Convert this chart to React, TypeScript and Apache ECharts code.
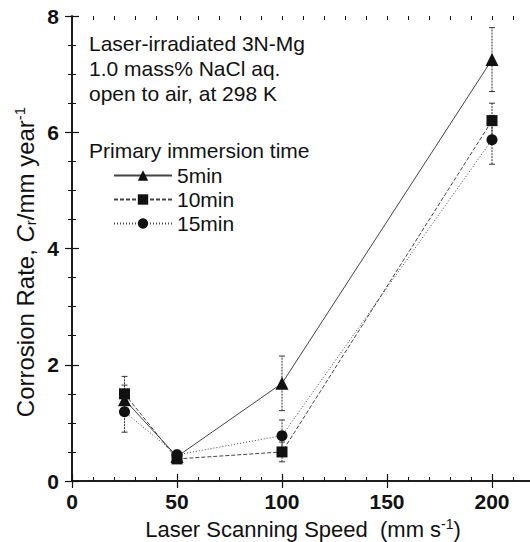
import React, { useEffect, useRef } from "react";
import * as echarts from "echarts";

const speeds = [25, 50, 100, 200];
const rate5 = [1.4, 0.42, 1.68, 7.25];
const rate10 = [1.5, 0.38, 0.5, 6.2];
const rate15 = [1.19, 0.45, 0.78, 5.87];
const err5 = [0.25, 0.08, 0.47, 0.55];
const err10 = [0.3, 0.07, 0.17, 0.3];
const err15 = [0.35, 0.08, 0.27, 0.42];
const seriesNames = ["5min", "10min", "15min"];
const xTickLabels = [0, 50, 100, 150, 200];
const yTickLabels = [0, 2, 4, 6, 8];
const noteLines = ["Laser-irradiated 3N-Mg", "1.0 mass% NaCl aq.", "open to air, at 298 K", "Primary immersion time"];
const noteYs = [43, 68, 93, 150];

const FONT = '"Liberation Sans", Arial, Helvetica, sans-serif';
const INK = "#111";
const LINE = "#444";

function errData(vals: number[], errs: number[]) {
  return speeds.map((s, i) => [s, vals[i] - errs[i], vals[i] + errs[i]]);
}

function errSeries(vals: number[], errs: number[]) {
  return {
    type: "custom",
    xAxisIndex: 0,
    yAxisIndex: 0,
    silent: true,
    z: 1,
    data: errData(vals, errs),
    renderItem: (params: any, api: any) => {
      const x = api.value(0);
      const lo = api.coord([x, api.value(1)]);
      const hi = api.coord([x, api.value(2)]);
      const w = 3;
      const style = { stroke: "#333", lineWidth: 1, lineDash: [2, 1] };
      const cap = { stroke: "#333", lineWidth: 1 };
      return {
        type: "group",
        children: [
          { type: "line", shape: { x1: lo[0], y1: lo[1], x2: hi[0], y2: hi[1] }, style },
          { type: "line", shape: { x1: lo[0] - w, y1: lo[1], x2: lo[0] + w, y2: lo[1] }, style: cap },
          { type: "line", shape: { x1: hi[0] - w, y1: hi[1], x2: hi[0] + w, y2: hi[1] }, style: cap },
        ],
      };
    },
  };
}

export default function App() {
  const ref = useRef<HTMLDivElement>(null);
  useEffect(() => {
    if (!ref.current) return;
    const chart = echarts.init(ref.current, null, { renderer: "svg" });
    const gridRect = { left: 72, top: 16, right: 11, bottom: 61, containLabel: false, outerBoundsMode: "none" };
    const axisLine = { show: true, lineStyle: { color: INK, width: 1.5 } };
    const option: any = {
      animation: false,
      textStyle: { fontFamily: FONT },
      grid: [{ ...gridRect }, { ...gridRect }],
      xAxis: [
        {
          gridIndex: 0,
          type: "value",
          position: "bottom",
          min: 0,
          max: 220,
          interval: 50,
          axisLine,
          axisTick: { show: true, inside: true, length: 7, lineStyle: { color: INK, width: 1.2 } },
          axisLabel: {
            margin: 10,
            color: INK,
            fontSize: 21,
            fontWeight: "bold",
            fontFamily: FONT,
            formatter: (v: number) => (xTickLabels.includes(v) ? String(v) : ""),
          },
          splitLine: { show: false },
          name: "{a|Laser Scanning Speed  (mm s}{sup|-1}{a|)}",
          nameLocation: "middle",
          nameGap: 33,
          nameTextStyle: {
            rich: {
              a: { fontSize: 22, color: INK, fontFamily: FONT, lineHeight: 24, verticalAlign: "bottom" },
              sup: { fontSize: 14, color: INK, fontFamily: FONT, lineHeight: 24, verticalAlign: "top" },
            },
          },
        },
        {
          gridIndex: 0,
          type: "value",
          position: "top",
          min: 0,
          max: 220,
          interval: 50,
          axisLine,
          axisTick: { show: true, inside: true, length: 7, lineStyle: { color: INK, width: 1.2 } },
          axisLabel: { show: false },
          splitLine: { show: false },
        },
        {
          gridIndex: 1,
          type: "value",
          position: "bottom",
          min: 0,
          max: 220,
          interval: 10,
          axisLine: { show: false },
          axisTick: { show: true, inside: true, length: 4, lineStyle: { color: INK, width: 1 } },
          axisLabel: { show: false },
          splitLine: { show: false },
        },
        {
          gridIndex: 1,
          type: "value",
          position: "top",
          min: 0,
          max: 220,
          interval: 10,
          axisLine: { show: false },
          axisTick: { show: true, inside: true, length: 4, lineStyle: { color: INK, width: 1 } },
          axisLabel: { show: false },
          splitLine: { show: false },
        },
      ],
      yAxis: [
        {
          gridIndex: 0,
          type: "value",
          position: "left",
          min: 0,
          max: 8,
          interval: 2,
          axisLine,
          axisTick: { show: true, inside: true, length: 7, lineStyle: { color: INK, width: 1.2 } },
          minorTick: { show: true, splitNumber: 4, length: 4, lineStyle: { color: INK, width: 1 } },
          axisLabel: {
            margin: 13,
            color: INK,
            fontSize: 21,
            fontWeight: "bold",
            fontFamily: FONT,
            formatter: (v: number) => (yTickLabels.includes(v) ? String(v) : ""),
          },
          splitLine: { show: false },
        },
        {
          gridIndex: 0,
          type: "value",
          position: "right",
          min: 0,
          max: 8,
          interval: 2,
          axisLine,
          axisTick: { show: true, inside: true, length: 7, lineStyle: { color: INK, width: 1.2 } },
          minorTick: { show: true, splitNumber: 4, length: 4, lineStyle: { color: INK, width: 1 } },
          axisLabel: { show: false },
          splitLine: { show: false },
        },
        {
          gridIndex: 1,
          type: "value",
          min: 0,
          max: 8,
          show: false,
        },
      ],
      legend: {
        orient: "vertical",
        left: 113,
        top: 165,
        itemWidth: 58,
        itemHeight: 13,
        itemGap: 3,
        padding: 0,
        data: seriesNames,
        textStyle: { fontSize: 21, color: INK, fontFamily: FONT },
      },
      graphic: [
        ...noteLines.map((t, i) => ({
          type: "text",
          x: 89,
          y: noteYs[i],
          style: { text: t, font: `21px ${FONT}`, fill: INK, verticalAlign: "middle" },
          silent: true,
        })),
        {
          type: "text",
          x: 25,
          y: 262,
          rotation: Math.PI / 2,
          silent: true,
          style: {
            text: "{a|Corrosion Rate, }{i|C}{sub|r}{a|/mm year}{sup|-1}",
            align: "center",
            verticalAlign: "middle",
            fill: INK,
            rich: {
              a: { fontSize: 24, fill: INK, fontFamily: FONT, lineHeight: 26, verticalAlign: "middle" },
              i: { fontSize: 24, fill: INK, fontFamily: FONT, fontStyle: "italic", lineHeight: 26, verticalAlign: "middle" },
              sub: { fontSize: 15, fill: INK, fontFamily: FONT, lineHeight: 26, verticalAlign: "bottom" },
              sup: { fontSize: 15, fill: INK, fontFamily: FONT, lineHeight: 26, verticalAlign: "top" },
            },
          },
        },
      ],
      series: [
        errSeries(rate5, err5),
        errSeries(rate10, err10),
        errSeries(rate15, err15),
        {
          name: seriesNames[0],
          type: "line",
          xAxisIndex: 0,
          yAxisIndex: 0,
          data: speeds.map((s, i) => [s, rate5[i]]),
          symbol: "triangle",
          symbolSize: 13,
          itemStyle: { color: INK },
          lineStyle: { color: LINE, width: 1, type: "solid" },
          z: 3,
        },
        {
          name: seriesNames[1],
          type: "line",
          xAxisIndex: 0,
          yAxisIndex: 0,
          data: speeds.map((s, i) => [s, rate10[i]]),
          symbol: "rect",
          symbolSize: 11,
          itemStyle: { color: INK },
          lineStyle: { color: LINE, width: 1, type: [4, 2] },
          z: 3,
        },
        {
          name: seriesNames[2],
          type: "line",
          xAxisIndex: 0,
          yAxisIndex: 0,
          data: speeds.map((s, i) => [s, rate15[i]]),
          symbol: "circle",
          symbolSize: 11,
          itemStyle: { color: INK },
          lineStyle: { color: LINE, width: 1, type: [1, 2] },
          z: 3,
        },
      ],
    };
    chart.setOption(option);
    return () => chart.dispose();
  }, []);
  return (
    <div style={{ position: "fixed", left: 0, top: 0, width: 530, height: 542, overflow: "hidden", background: "#fff" }}>
      <div ref={ref} style={{ width: 545, height: 542 }} />
    </div>
  );
}
